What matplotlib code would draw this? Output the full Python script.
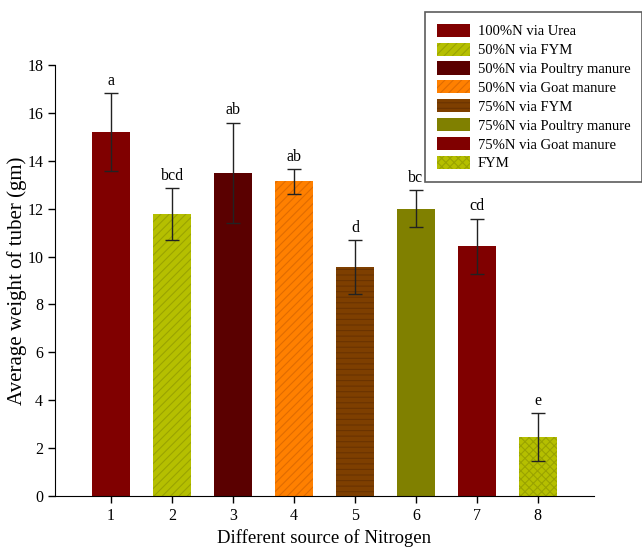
import matplotlib
matplotlib.use('Agg')
import matplotlib.pyplot as plt
import numpy as np

# treatment numbers on the x axis
groups = [1, 2, 3, 4, 5, 6, 7, 8]
treatments = ['100%N via Urea', '50%N via FYM', '50%N via Poultry manure',
              '50%N via Goat manure', '75%N via FYM', '75%N via Poultry manure',
              '75%N via Goat manure', 'FYM']
weights = [15.2, 11.78, 13.49, 13.14, 9.56, 12.0, 10.43, 2.45]
errors = [1.63, 1.07, 2.1, 0.52, 1.11, 0.78, 1.15, 1.0]
letters = ['a', 'bcd', 'ab', 'ab', 'd', 'bc', 'cd', 'e']

colors = ['#800000', '#b5bf00', '#5a0000', '#ff8000', '#7e3f00', '#808000', '#800000', '#b5bf00']
hatch_colors = ['#800000', '#9aa300', '#5a0000', '#e06c00', '#6a3300', '#808000', '#800000', '#9aa300']
hatches = [None, '////', None, '////', '---', None, None, 'xxxx']

plt.rcParams['font.family'] = ['Liberation Serif', 'DejaVu Serif']
plt.rcParams['hatch.linewidth'] = 0.8

fig = plt.figure(figsize=(6.42, 5.5), dpi=100)
ax = fig.add_axes([0.0857, 0.098, 0.8393, 0.784])

x = np.array(groups)
for i in range(len(groups)):
    ax.bar(x[i], weights[i], width=0.62, color=colors[i], edgecolor=hatch_colors[i],
           hatch=hatches[i], linewidth=0, label=treatments[i], zorder=2)
ax.errorbar(x, weights, yerr=errors, fmt='none', ecolor='#222222', elinewidth=1,
            capsize=5, capthick=1, zorder=3)

for i in range(len(groups)):
    ax.text(x[i], weights[i] + errors[i] + 0.18, letters[i], ha='center', va='bottom',
            fontsize=11.5)

ax.set_xlim(0.08, 8.92)
ax.set_ylim(0, 18)
ax.set_xticks(x)
ax.set_yticks(np.arange(0, 19, 2))
ax.tick_params(direction='out', length=5, labelsize=11.5, width=1)
ax.spines['top'].set_visible(False)
ax.spines['right'].set_visible(False)
ax.set_xlabel('Different source of Nitrogen', fontsize=13.5, labelpad=4)
ax.set_ylabel('Average weight of tuber (gm)', fontsize=15, labelpad=0)

leg = fig.legend(loc='upper left', bbox_to_anchor=(425 / 642, 1 - 12 / 550),
                 fontsize=10.5, frameon=True, fancybox=False, edgecolor='#333333',
                 handlelength=2.3, handleheight=1.0, labelspacing=0.3,
                 borderpad=0.8, handletextpad=0.5, borderaxespad=0)
leg.get_frame().set_linewidth(1.2)

fig.savefig('out.png', dpi=100)
